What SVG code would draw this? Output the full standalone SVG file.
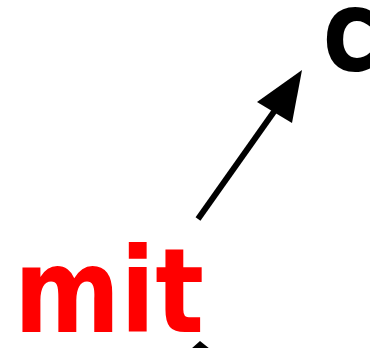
<svg xmlns="http://www.w3.org/2000/svg" width="385" height="348" viewBox="0 0 385 348">
<style>
.lbl{font-family:"Comic Sans MS","DejaVu Sans",sans-serif;font-weight:bold}
.conn{stroke:#000;stroke-width:6;fill:none}
</style>
<rect width="385" height="348" fill="#fff"/>
<g id="node-c"><text class="lbl" x="323" y="70" font-size="112" fill="#000" textLength="53" lengthAdjust="spacingAndGlyphs">c</text></g>
<g id="node-mit"><text class="lbl" x="14" y="332" font-size="118" fill="#ff0000" textLength="190" lengthAdjust="spacingAndGlyphs">mit</text></g>
<g id="connectors">
<line class="conn" x1="198" y1="219" x2="278" y2="106"/>
<polygon points="302,70 257,102 292,123" fill="#000"/>
<polygon points="200,341 191,349 210,349" fill="#000"/>
</g>
</svg>
